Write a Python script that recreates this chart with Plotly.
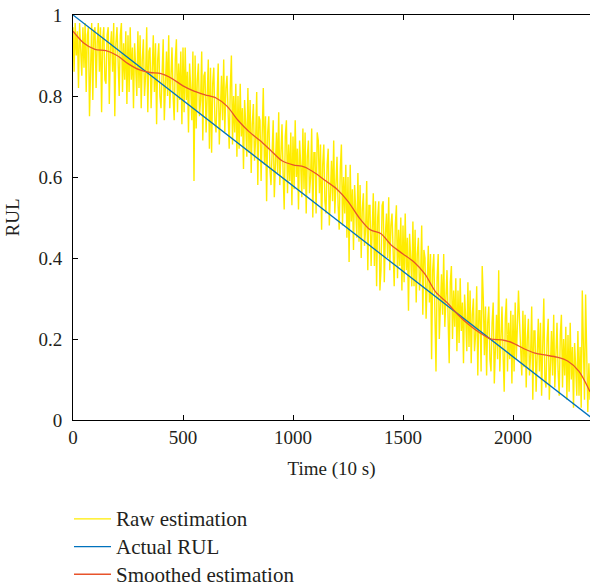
import plotly.graph_objects as go

# Raw estimation sampled every 5 time units (t = 0 .. 2350)
raw_time = list(range(0, 2355, 5))
raw_values = [
    0.97, 0.86, 0.98, 0.90, 0.96, 0.82, 0.98, 0.93, 0.85, 0.97,
    0.87, 0.98, 0.81, 0.95, 0.97, 0.75, 0.90, 0.98, 0.79, 0.96,
    0.97, 0.82, 0.93, 0.98, 0.86, 0.97, 0.76, 0.94, 0.97, 0.84,
    0.83, 0.95, 0.97, 0.78, 0.92, 0.96, 0.86, 0.98, 0.75, 0.93,
    0.97, 0.86, 0.80, 0.95, 0.98, 0.81, 0.93, 0.84, 0.96, 0.78,
    0.95, 0.81, 0.97, 0.84, 0.92, 0.77, 0.93, 0.87, 0.80, 0.96,
    0.82, 0.95, 0.77, 0.89, 0.94, 0.80, 0.85, 0.97, 0.76, 0.91,
    0.92, 0.77, 0.87, 0.95, 0.81, 0.93, 0.73, 0.89, 0.93, 0.80,
    0.77, 0.89, 0.94, 0.74, 0.86, 0.91, 0.80, 0.95, 0.77, 0.88,
    0.92, 0.80, 0.74, 0.89, 0.94, 0.76, 0.88, 0.79, 0.91, 0.73,
    0.92, 0.76, 0.92, 0.79, 0.86, 0.71, 0.88, 0.82, 0.74, 0.91,
    0.59, 0.90, 0.72, 0.84, 0.88, 0.75, 0.79, 0.91, 0.69, 0.85,
    0.86, 0.71, 0.81, 0.89, 0.67, 0.87, 0.66, 0.83, 0.87, 0.74,
    0.71, 0.83, 0.88, 0.68, 0.80, 0.85, 0.74, 0.89, 0.71, 0.82,
    0.85, 0.73, 0.67, 0.82, 0.90, 0.68, 0.80, 0.71, 0.83, 0.65,
    0.80, 0.67, 0.83, 0.70, 0.77, 0.62, 0.79, 0.73, 0.65, 0.82,
    0.66, 0.79, 0.61, 0.73, 0.78, 0.64, 0.69, 0.81, 0.58, 0.75,
    0.74, 0.59, 0.69, 0.82, 0.63, 0.75, 0.54, 0.71, 0.75, 0.62,
    0.58, 0.70, 0.74, 0.55, 0.67, 0.71, 0.61, 0.76, 0.58, 0.68,
    0.73, 0.61, 0.52, 0.70, 0.74, 0.56, 0.68, 0.59, 0.71, 0.53,
    0.70, 0.57, 0.74, 0.60, 0.67, 0.52, 0.69, 0.63, 0.55, 0.72,
    0.57, 0.71, 0.51, 0.65, 0.69, 0.56, 0.60, 0.72, 0.50, 0.66,
    0.66, 0.51, 0.71, 0.69, 0.56, 0.68, 0.47, 0.63, 0.68, 0.54,
    0.51, 0.63, 0.67, 0.48, 0.60, 0.64, 0.54, 0.69, 0.51, 0.61,
    0.65, 0.53, 0.47, 0.62, 0.68, 0.48, 0.60, 0.51, 0.63, 0.45,
    0.60, 0.39, 0.63, 0.49, 0.57, 0.42, 0.58, 0.52, 0.45, 0.61,
    0.44, 0.58, 0.40, 0.52, 0.56, 0.43, 0.47, 0.59, 0.37, 0.53,
    0.53, 0.38, 0.48, 0.56, 0.38, 0.54, 0.33, 0.50, 0.54, 0.32,
    0.37, 0.53, 0.54, 0.34, 0.46, 0.51, 0.40, 0.55, 0.37, 0.48,
    0.51, 0.39, 0.33, 0.48, 0.53, 0.35, 0.47, 0.38, 0.50, 0.32,
    0.48, 0.34, 0.51, 0.37, 0.45, 0.27, 0.46, 0.40, 0.33, 0.49,
    0.33, 0.47, 0.29, 0.41, 0.45, 0.32, 0.36, 0.48, 0.26, 0.42,
    0.40, 0.25, 0.35, 0.43, 0.29, 0.41, 0.15, 0.37, 0.41, 0.28,
    0.12, 0.35, 0.41, 0.20, 0.32, 0.36, 0.26, 0.41, 0.23, 0.33,
    0.37, 0.25, 0.14, 0.34, 0.38, 0.20, 0.32, 0.23, 0.35, 0.17,
    0.32, 0.19, 0.35, 0.22, 0.29, 0.14, 0.31, 0.25, 0.17, 0.34,
    0.18, 0.32, 0.14, 0.26, 0.30, 0.17, 0.21, 0.33, 0.11, 0.27,
    0.27, 0.12, 0.38, 0.30, 0.16, 0.28, 0.11, 0.24, 0.28, 0.15,
    0.12, 0.24, 0.29, 0.09, 0.21, 0.26, 0.15, 0.37, 0.12, 0.23,
    0.28, 0.16, 0.07, 0.25, 0.30, 0.12, 0.24, 0.15, 0.27, 0.09,
    0.26, 0.12, 0.29, 0.15, 0.23, 0.32, 0.24, 0.18, 0.11, 0.27,
    0.13, 0.26, 0.08, 0.20, 0.25, 0.11, 0.16, 0.28, 0.05, 0.22,
    0.22, 0.07, 0.18, 0.25, 0.12, 0.24, 0.06, 0.19, 0.30, 0.10,
    0.08, 0.20, 0.25, 0.05, 0.17, 0.22, 0.11, 0.26, 0.08, 0.19,
    0.24, 0.12, 0.06, 0.21, 0.26, 0.08, 0.20, 0.11, 0.23, 0.05,
    0.21, 0.07, 0.24, 0.10, 0.18, 0.03, 0.19, 0.13, 0.06, 0.22,
    0.06, 0.18, 0.03, 0.32, 0.16, 0.05, 0.31, 0.19, 0.02, 0.14,
    0.05,
]

# Actual RUL (linear decline)
actual_time = [0, 2370]
actual_values = [1.0, 0.0]

# Smoothed estimation sampled every 50 time units
smooth_time = list(range(0, 2400, 50))
smooth_values = [
    0.960, 0.930, 0.915, 0.912, 0.900, 0.880, 0.865, 0.858, 0.855, 0.843,
    0.825, 0.812, 0.803, 0.795, 0.775, 0.740, 0.712, 0.690, 0.665, 0.640,
    0.630, 0.625, 0.610, 0.590, 0.570, 0.540, 0.500, 0.470, 0.460, 0.430,
    0.410, 0.390, 0.360, 0.315, 0.290, 0.260, 0.235, 0.215, 0.200, 0.198,
    0.190, 0.176, 0.165, 0.160, 0.155, 0.145, 0.120, 0.070,
]

series_names = ["Raw estimation", "Actual RUL", "Smoothed estimation"]

FONT = "Liberation Serif"
TXT = "#231F20"

W, H = 590, 588
TOP, PLOT_BOTTOM = 15, 420
paper_h = H - TOP
y_dom0 = (H - PLOT_BOTTOM) / paper_h


def legend_name(s):
    return '<span style="font-size:21px">' + s + '</span>'


fig = go.Figure()
fig.add_trace(go.Scatter(x=raw_time, y=raw_values, mode="lines",
                         name=legend_name(series_names[0]),
                         line=dict(color="#FFEC00", width=1.4)))
fig.add_trace(go.Scatter(x=actual_time, y=actual_values, mode="lines",
                         name=legend_name(series_names[1]),
                         line=dict(color="#0072BD", width=1.3)))
fig.add_trace(go.Scatter(x=smooth_time, y=smooth_values, mode="lines",
                         name=legend_name(series_names[2]),
                         line=dict(color="#E8532B", width=1.3, shape="spline", smoothing=0.8)))

fig.update_layout(
    width=W, height=H,
    margin=dict(l=73, r=0, t=TOP, b=0, autoexpand=False),
    paper_bgcolor="white", plot_bgcolor="white",
    font=dict(family=FONT, size=19, color=TXT),
    showlegend=True,
    legend=dict(x=-4 / 517, y=(H - 500) / paper_h, xanchor="left", yanchor="top",
                orientation="v", font=dict(family=FONT, size=19, color=TXT),
                bgcolor="rgba(0,0,0,0)", borderwidth=0, itemwidth=37),
    xaxis=dict(range=[0, 2350], tickvals=[0, 500, 1000, 1500, 2000],
               showgrid=False, zeroline=False, showline=True,
               linecolor="black", linewidth=1, mirror="ticks",
               ticks="inside", ticklen=5, tickcolor="black",
               automargin=False, anchor="y",
               title=dict(text="Time (10 s)", standoff=14, font=dict(size=19))),
    yaxis=dict(range=[0, 1], domain=[y_dom0, 1],
               tickvals=[0, 0.2, 0.4, 0.6, 0.8, 1],
               ticktext=["0", "0.2", "0.4", "0.6", "0.8", "1"],
               showgrid=False, zeroline=False, showline=True,
               linecolor="black", linewidth=1,
               ticks="inside", ticklen=5, tickcolor="black",
               ticklabelstandoff=6, automargin=False,
               title=dict(text="RUL", standoff=13, font=dict(size=19))),
)

fig.write_html("out.html")
